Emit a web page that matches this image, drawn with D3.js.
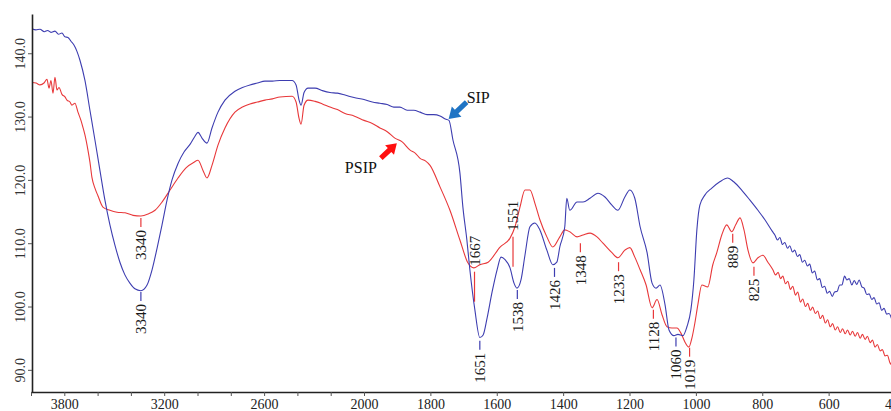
<!DOCTYPE html>
<html>
<head>
<meta charset="utf-8">
<script src="https://cdn.jsdelivr.net/npm/d3@7"></script>
<style>
  body { margin: 0; background: #fff; }
  text { font-family: "Liberation Serif", "Times New Roman", serif; }
</style>
</head>
<body>
<div id="chart"></div>
<script>
// FTIR spectra of SIP and PSIP (transmittance vs wavenumber)

// SIP (blue) spectrum
var sip_wn = [4000, 3970, 3946, 3920, 3900, 3880, 3856, 3835, 3814, 3796, 3778, 3760, 3742, 3724, 3706,
  3676, 3646, 3616, 3586, 3556, 3526, 3496, 3466, 3436, 3406, 3376, 3340, 3303, 3273, 3243, 3213,
  3183, 3153, 3117, 3081, 3045, 3015, 2997, 2973, 2943, 2913, 2877, 2835, 2775, 2730, 2685, 2640,
  2595, 2550, 2505, 2432, 2408, 2390, 2378, 2360, 2336, 2294, 2250, 2204, 2160, 2114, 2060, 2000,
  1975, 1952, 1930, 1910, 1892, 1870, 1850, 1831, 1810, 1790, 1771, 1755, 1744, 1732, 1711, 1702,
  1690, 1681, 1666, 1651, 1641, 1629, 1614, 1599, 1587, 1575, 1560, 1548, 1539, 1527, 1515, 1500,
  1485, 1470, 1449, 1431, 1419, 1410, 1395, 1389, 1380, 1358, 1340, 1319, 1295, 1274, 1253, 1235,
  1214, 1199, 1184, 1168, 1147, 1132, 1120, 1108, 1093, 1081, 1066, 1054, 1039, 1027, 1015, 1006,
  997, 988, 973, 952, 928, 904, 886, 862, 837, 813, 792, 770, 762, 754, 747, 739, 732, 724, 717,
  709, 702, 694, 687, 679, 672, 664, 657, 649, 642, 634, 627, 619, 612, 604, 597, 589, 582, 574,
  567, 560, 552, 545, 538, 530, 523, 515, 508, 500, 493, 485, 478, 470, 463, 455, 448, 440, 433,
  425, 418, 410];
var sip_t = [143.9, 143.7, 143.8, 143.4, 143.6, 143.3, 143.5, 143.0, 143.2, 142.6, 142.5, 141.9, 141.3, 140.3, 138.9,
  135.7, 131.0, 126.3, 121.5, 116.8, 112.9, 109.7, 107.0, 105.0, 103.7, 102.8, 102.5, 103.4, 105.8, 109.2, 112.9,
  116.8, 120.0, 122.6, 124.4, 125.6, 126.9, 127.5, 126.6, 125.8, 128.2, 130.7, 132.6, 134.0, 134.6, 135.0, 135.3,
  135.6, 135.6, 135.7, 135.7, 135.0, 132.6, 131.8, 133.8, 134.5, 134.5, 134.1, 133.8, 133.7, 133.4, 133.0, 132.7,
  132.3, 132.1, 131.9, 131.5, 131.5, 131.0, 131.0, 130.7, 130.3, 130.3, 130.1, 129.6, 129.4, 126.3, 121.1, 115.7,
  110.5, 105.8, 99.5, 95.1, 95.5, 98.2, 102.3, 105.8, 107.8, 107.4, 106.1, 103.7, 102.9, 104.2, 108.1, 112.6,
  113.2, 112.1, 108.9, 106.6, 107.0, 109.4, 112.6, 117.1, 115.2, 116.5, 116.5, 117.1, 117.9, 117.3, 116.0, 115.2,
  117.3, 118.4, 117.1, 112.6, 108.5, 103.7, 102.9, 103.4, 100.3, 96.3, 95.4, 95.6, 95.4, 96.8, 99.5, 104.2,
  112.1, 116.0, 117.6, 118.7, 119.7, 120.3, 119.7, 118.4, 116.8, 115.2, 113.7, 111.9, 111.3, 110.5, 110.9, 109.8, 110.1, 109.2, 109.6,
  108.6, 108.9, 107.9, 108.2, 107.0, 107.3, 106.4, 106.7, 105.3, 105.6, 104.2, 104.4, 103.0, 103.2, 102.1, 102.4, 101.6, 102.3, 102.4,
  103.4, 103.4, 104.8, 104.2, 104.4, 103.4, 104.1, 103.5, 104.2, 103.1, 102.9, 101.9, 102.0, 101.1, 101.4, 100.4, 100.6, 99.4, 99.7,
  98.8, 98.9, 98.0];

// PSIP (red) spectrum
var psip_wn = [4000, 3970, 3946, 3922, 3904, 3892, 3880, 3868, 3856, 3844, 3832, 3814, 3796, 3784, 3766,
  3754, 3736, 3718, 3700, 3688, 3676, 3658, 3646, 3634, 3616, 3598, 3568, 3526, 3483, 3435, 3387,
  3340, 3297, 3255, 3213, 3165, 3117, 3069, 3021, 2997, 2967, 2943, 2913, 2877, 2835, 2775, 2730,
  2685, 2640, 2595, 2550, 2505, 2432, 2408, 2390, 2378, 2360, 2336, 2294, 2250, 2204, 2160, 2114,
  2060, 2000, 1975, 1952, 1930, 1907, 1885, 1861, 1845, 1831, 1815, 1801, 1771, 1741, 1711, 1687,
  1669, 1651, 1626, 1590, 1560, 1545, 1530, 1515, 1500, 1485, 1470, 1449, 1431, 1410, 1395, 1380,
  1358, 1340, 1319, 1298, 1280, 1253, 1235, 1214, 1199, 1184, 1168, 1150, 1132, 1117, 1102, 1087,
  1072, 1057, 1045, 1033, 1021, 1012, 1003, 994, 982, 964, 949, 937, 922, 907, 892, 880, 867, 855,
  843, 828, 813, 798, 783, 768, 760, 752, 745, 738, 730, 723, 715, 708, 700, 693, 685, 678, 670,
  663, 655, 648, 640, 633, 625, 618, 610, 603, 595, 588, 580, 573, 565, 558, 550, 543, 535, 528,
  520, 513, 505, 498, 490, 483, 475, 468, 460, 453, 445, 438, 430, 423, 415, 410];
var psip_t = [135.4, 135.3, 135.0, 135.3, 135.9, 134.5, 135.7, 133.7, 136.2, 134.2, 134.6, 133.5, 133.1, 132.6, 132.3,
  131.8, 132.1, 130.7, 129.4, 128.3, 127.1, 124.7, 122.8, 120.4, 118.7, 117.5, 115.7, 115.2, 114.9, 114.8, 114.4,
  114.3, 114.6, 115.2, 116.5, 118.4, 120.3, 121.9, 122.8, 123.1, 121.5, 120.3, 122.3, 125.5, 128.2, 130.7, 131.5,
  132.0, 132.3, 132.6, 132.8, 133.1, 133.2, 132.3, 129.7, 128.8, 131.8, 132.6, 132.4, 132.0, 131.5, 131.1, 130.5,
  130.1, 129.4, 128.9, 128.2, 127.6, 126.6, 126.0, 124.7, 124.2, 123.4, 123.0, 122.3, 118.9, 115.2, 110.5, 106.9,
  106.1, 106.6, 107.0, 109.4, 110.8, 112.6, 115.7, 118.4, 118.4, 116.3, 113.7, 111.0, 109.4, 111.0, 112.1, 111.8,
  111.0, 111.3, 111.6, 111.0, 110.0, 108.5, 107.7, 108.9, 109.3, 107.8, 105.8, 103.4, 99.8, 101.1, 98.7, 96.8,
  96.6, 96.6, 95.8, 94.4, 93.6, 95.0, 97.4, 100.3, 103.4, 103.1, 106.6, 108.5, 111.3, 112.9, 111.8, 112.9, 114.0, 112.1,
  108.9, 106.9, 107.7, 108.1, 107.0, 105.8, 105.0, 105.4, 104.4, 104.8, 103.6, 104.0, 102.7, 103.2, 101.8, 102.3, 100.7, 101.2, 100.0,
  100.5, 99.4, 99.9, 98.9, 99.3, 98.1, 98.6, 97.4, 97.9, 96.8, 97.3, 96.3, 96.8, 95.9, 96.5, 95.7, 96.3, 95.5, 96.1,
  95.3, 95.9, 95.0, 95.6, 94.8, 95.3, 94.3, 94.7, 93.6, 94.0, 93.0, 93.2, 92.2, 92.3, 91.1, 90.8];

// axis ticks
var y_ticks = [90, 100, 110, 120, 130, 140];
var x_tick_labels = [3800, 3200, 2600, 2000, 1800, 1600, 1400, 1200, 1000, 800, 600, 400];

// peak annotations
var peak_names = ['3340', '3340', '1667', '1651', '1551', '1538', '1426', '1348', '1233', '1128', '1060', '1019', '889', '825'];
var peak_series = ['psip', 'sip', 'psip', 'sip', 'psip', 'sip', 'sip', 'psip', 'psip', 'psip', 'sip', 'psip', 'psip', 'psip'];
var peak_t = [114.0, 102.3, 105.5, 94.6, 111.0, 102.6, 106.1, 110.0, 107.0, 99.5, 95.1, 93.5, 111.5, 106.3];
var peak_side = ['below', 'below', 'above', 'below', 'above', 'below', 'below', 'below', 'below', 'below', 'below', 'below', 'below', 'below'];

var chart_width = 891;
var chart_height = 411;
var blue = '#3d3db0';
var red = '#e8383a';

var svg = d3.select('#chart')
  .append('svg')
  .attr('width', chart_width)
  .attr('height', chart_height);

// wavenumber axis changes scale at 2000
var x_scale = d3.scaleLinear()
  .domain([4000, 2000, 400])
  .range([31, 364, 895]);

var y_scale = d3.scaleLinear()
  .domain([86.5, 146.2])
  .range([392, 14]);

svg.append('clipPath')
  .attr('id', 'plot_clip')
  .append('rect')
  .attr('x', 32)
  .attr('y', 0)
  .attr('width', chart_width - 32)
  .attr('height', 392);

var line = d3.line()
  .x(function(d) { return x_scale(d[0]); })
  .y(function(d) { return y_scale(d[1]); })
  .curve(d3.curveMonotoneX);

var sip_data = sip_wn.map(function(w, i) { return [w, sip_t[i]]; });
var psip_data = psip_wn.map(function(w, i) { return [w, psip_t[i]]; });

var plot = svg.append('g').attr('clip-path', 'url(#plot_clip)');

plot.append('path')
  .datum(psip_data)
  .attr('d', line)
  .attr('fill', 'none')
  .attr('stroke', red)
  .attr('stroke-width', 1.1)
  .attr('stroke-linejoin', 'round');

plot.append('path')
  .datum(sip_data)
  .attr('d', line)
  .attr('fill', 'none')
  .attr('stroke', blue)
  .attr('stroke-width', 1.1)
  .attr('stroke-linejoin', 'round');

// axes
var x_axis = d3.axisBottom(x_scale)
  .tickValues(d3.range(400, 4001, 200))
  .tickSize(4)
  .tickSizeOuter(0)
  .tickFormat(function(d) {
    return x_tick_labels.indexOf(d) >= 0 ? d : '';
  });

var gx = svg.append('g')
  .attr('transform', 'translate(0,392)')
  .call(x_axis);
gx.select('.domain').attr('stroke', '#222').attr('stroke-width', 1.6);
gx.selectAll('.tick line').attr('stroke', '#555');
gx.selectAll('text')
  .attr('font-size', '14px')
  .attr('fill', '#222')
  .attr('y', 7);

var y_axis = d3.axisLeft(y_scale)
  .tickValues(y_ticks)
  .tickSize(4)
  .tickSizeOuter(0)
  .tickFormat(d3.format('.1f'));

var gy = svg.append('g')
  .attr('transform', 'translate(32,0)')
  .call(y_axis);
gy.select('.domain').attr('stroke', '#222').attr('stroke-width', 1.6);
gy.selectAll('.tick line').attr('stroke', '#555');
gy.selectAll('text')
  .attr('font-size', '14px')
  .attr('fill', '#333')
  .attr('x', null)
  .attr('dy', null)
  .attr('text-anchor', 'middle')
  .attr('transform', 'translate(-7,0) rotate(-90)');

// peak labels
var peaks = peak_names.map(function(n, i) {
  return { name: n, wn: +n, series: peak_series[i], t: peak_t[i], side: peak_side[i] };
});

var pk = svg.selectAll('.peak')
  .data(peaks)
  .enter()
  .append('g')
  .attr('class', 'peak');

pk.append('line')
  .attr('x1', function(d) { return x_scale(d.wn); })
  .attr('x2', function(d) { return x_scale(d.wn); })
  .attr('y1', function(d) { return y_scale(d.t); })
  .attr('y2', function(d) { return y_scale(d.t) + (d.side === 'below' ? 9 : 30); })
  .attr('stroke', function(d) { return d.series === 'sip' ? blue : red; })
  .attr('stroke-width', 1.2);

pk.append('text')
  .text(function(d) { return d.name; })
  .attr('font-size', '15px')
  .attr('fill', '#1a1a1a')
  .attr('dy', '0.35em')
  .attr('text-anchor', function(d) { return d.side === 'below' ? 'end' : 'start'; })
  .attr('transform', function(d) {
    var yy = d.side === 'below' ? y_scale(d.t) + 12 : y_scale(d.t) - 6;
    return 'translate(' + x_scale(d.wn) + ',' + yy + ') rotate(-90)';
  });

// arrows pointing at the curves
function arrow_path(tip, tail, head_len, head_half, shaft_half) {
  var dx = tip[0] - tail[0], dy = tip[1] - tail[1];
  var len = Math.sqrt(dx * dx + dy * dy);
  var ux = dx / len, uy = dy / len;
  var nx = -uy, ny = ux;
  var bx = tip[0] - ux * head_len, by = tip[1] - uy * head_len;
  var pts = [
    [tail[0] + nx * shaft_half, tail[1] + ny * shaft_half],
    [bx + nx * shaft_half, by + ny * shaft_half],
    [bx + nx * head_half, by + ny * head_half],
    tip,
    [bx - nx * head_half, by - ny * head_half],
    [bx - nx * shaft_half, by - ny * shaft_half],
    [tail[0] - nx * shaft_half, tail[1] - ny * shaft_half]
  ];
  return 'M' + pts.map(function(p) { return p[0] + ',' + p[1]; }).join('L') + 'Z';
}

var sip_tip = [x_scale(1745), y_scale(129.6)];
svg.append('path')
  .attr('d', arrow_path(sip_tip, [sip_tip[0] + 18, sip_tip[1] - 17], 11, 7, 2.6))
  .attr('fill', '#1f74c4');
svg.append('text')
  .text('SIP')
  .attr('x', sip_tip[0] + 18)
  .attr('y', sip_tip[1] - 16)
  .attr('font-size', '16px')
  .attr('fill', '#111');

var psip_tip = [x_scale(1901), y_scale(125.8)];
svg.append('path')
  .attr('d', arrow_path(psip_tip, [psip_tip[0] - 16, psip_tip[1] + 15], 10, 6.5, 2.6))
  .attr('fill', '#ff1010');
svg.append('text')
  .text('PSIP')
  .attr('x', psip_tip[0] - 52)
  .attr('y', psip_tip[1] + 30)
  .attr('font-size', '16px')
  .attr('fill', '#111');
</script>
</body>
</html>
